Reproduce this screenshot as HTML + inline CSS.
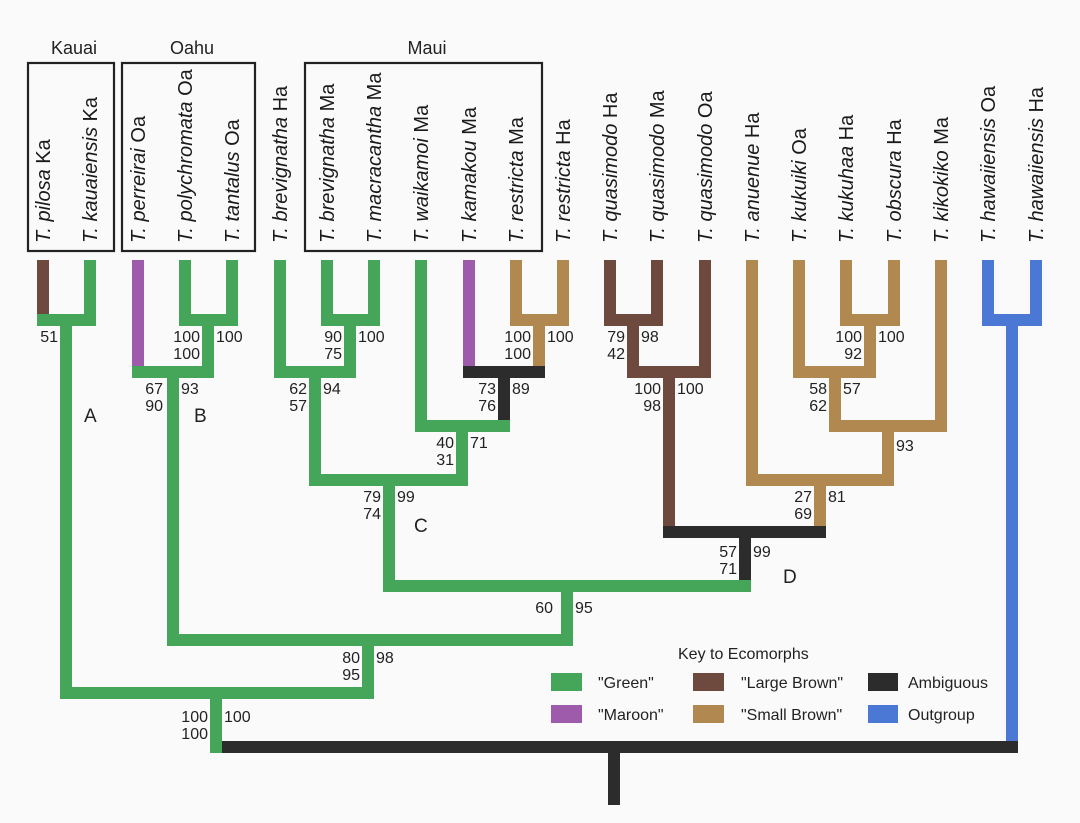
<!DOCTYPE html>
<html><head><meta charset="utf-8"><style>
html,body{margin:0;padding:0;background:#fafafa;}
svg{display:block;font-family:"Liberation Sans",sans-serif;}
</style></head><body>
<svg width="1080" height="823" viewBox="0 0 1080 823" xmlns="http://www.w3.org/2000/svg">
<rect width="1080" height="823" fill="#fafafa"/>
<g fill="none" stroke="#222" stroke-width="2.2">
<rect x="28" y="63" width="86" height="188"/>
<rect x="122" y="63" width="133" height="188"/>
<rect x="305" y="63" width="237" height="188"/>
</g>
<g font-size="18" fill="#222" text-anchor="middle">
<text x="74" y="54">Kauai</text><text x="192" y="54">Oahu</text><text x="427" y="54">Maui</text>
</g>
<g font-size="20" fill="#1a1a1a">
<text transform="translate(50,243) rotate(-90)"><tspan font-style="italic">T. pilosa</tspan> Ka</text>
<text transform="translate(97,243) rotate(-90)"><tspan font-style="italic">T. kauaiensis</tspan> Ka</text>
<text transform="translate(145,243) rotate(-90)"><tspan font-style="italic">T. perreirai</tspan> Oa</text>
<text transform="translate(192,243) rotate(-90)"><tspan font-style="italic">T. polychromata</tspan> Oa</text>
<text transform="translate(239,243) rotate(-90)"><tspan font-style="italic">T. tantalus</tspan> Oa</text>
<text transform="translate(287,243) rotate(-90)"><tspan font-style="italic">T. brevignatha</tspan> Ha</text>
<text transform="translate(334,243) rotate(-90)"><tspan font-style="italic">T. brevignatha</tspan> Ma</text>
<text transform="translate(381,243) rotate(-90)"><tspan font-style="italic">T. macracantha</tspan> Ma</text>
<text transform="translate(428,243) rotate(-90)"><tspan font-style="italic">T. waikamoi</tspan> Ma</text>
<text transform="translate(476,243) rotate(-90)"><tspan font-style="italic">T. kamakou</tspan> Ma</text>
<text transform="translate(523,243) rotate(-90)"><tspan font-style="italic">T. restricta</tspan> Ma</text>
<text transform="translate(570,243) rotate(-90)"><tspan font-style="italic">T. restricta</tspan> Ha</text>
<text transform="translate(617,243) rotate(-90)"><tspan font-style="italic">T. quasimodo</tspan> Ha</text>
<text transform="translate(664,243) rotate(-90)"><tspan font-style="italic">T. quasimodo</tspan> Ma</text>
<text transform="translate(712,243) rotate(-90)"><tspan font-style="italic">T. quasimodo</tspan> Oa</text>
<text transform="translate(759,243) rotate(-90)"><tspan font-style="italic">T. anuenue</tspan> Ha</text>
<text transform="translate(806,243) rotate(-90)"><tspan font-style="italic">T. kukuiki</tspan> Oa</text>
<text transform="translate(853,243) rotate(-90)"><tspan font-style="italic">T. kukuhaa</tspan> Ha</text>
<text transform="translate(901,243) rotate(-90)"><tspan font-style="italic">T. obscura</tspan> Ha</text>
<text transform="translate(948,243) rotate(-90)"><tspan font-style="italic">T. kikokiko</tspan> Ma</text>
<text transform="translate(995,243) rotate(-90)"><tspan font-style="italic">T. hawaiiensis</tspan> Oa</text>
<text transform="translate(1043,243) rotate(-90)"><tspan font-style="italic">T. hawaiiensis</tspan> Ha</text>
</g>
<g>
<rect x="37" y="260" width="12" height="54" fill="#6e4a3e"/>
<rect x="84" y="260" width="12" height="60" fill="#45a65a"/>
<rect x="37" y="314" width="59" height="12" fill="#45a65a"/>
<rect x="60" y="320" width="12" height="373" fill="#45a65a"/>
<rect x="179" y="260" width="12" height="60" fill="#45a65a"/>
<rect x="226" y="260" width="12" height="60" fill="#45a65a"/>
<rect x="179" y="314" width="59" height="12" fill="#45a65a"/>
<rect x="202" y="320" width="12" height="52" fill="#45a65a"/>
<rect x="132" y="260" width="12" height="106" fill="#9e5aab"/>
<rect x="132" y="366" width="82" height="12" fill="#45a65a"/>
<rect x="167" y="372" width="12" height="268" fill="#45a65a"/>
<rect x="321" y="260" width="12" height="60" fill="#45a65a"/>
<rect x="368" y="260" width="12" height="60" fill="#45a65a"/>
<rect x="321" y="314" width="59" height="12" fill="#45a65a"/>
<rect x="344" y="320" width="12" height="52" fill="#45a65a"/>
<rect x="274" y="260" width="12" height="112" fill="#45a65a"/>
<rect x="274" y="366" width="82" height="12" fill="#45a65a"/>
<rect x="309" y="372" width="12" height="108" fill="#45a65a"/>
<rect x="415" y="260" width="12" height="166" fill="#45a65a"/>
<rect x="463" y="260" width="12" height="106" fill="#9e5aab"/>
<rect x="510" y="260" width="12" height="60" fill="#b08850"/>
<rect x="557" y="260" width="12" height="60" fill="#b08850"/>
<rect x="510" y="314" width="59" height="12" fill="#b08850"/>
<rect x="533" y="320" width="12" height="46" fill="#b08850"/>
<rect x="463" y="366" width="82" height="12" fill="#2c2c2c"/>
<rect x="498" y="372" width="12" height="54" fill="#2c2c2c"/>
<rect x="415" y="420" width="95" height="12" fill="#45a65a"/>
<rect x="456" y="426" width="12" height="54" fill="#45a65a"/>
<rect x="309" y="474" width="159" height="12" fill="#45a65a"/>
<rect x="383" y="480" width="12" height="106" fill="#45a65a"/>
<rect x="604" y="260" width="12" height="60" fill="#6e4a3e"/>
<rect x="651" y="260" width="12" height="60" fill="#6e4a3e"/>
<rect x="604" y="314" width="59" height="12" fill="#6e4a3e"/>
<rect x="627" y="320" width="12" height="52" fill="#6e4a3e"/>
<rect x="699" y="260" width="12" height="112" fill="#6e4a3e"/>
<rect x="627" y="366" width="84" height="12" fill="#6e4a3e"/>
<rect x="663" y="372" width="12" height="160" fill="#6e4a3e"/>
<rect x="840" y="260" width="12" height="60" fill="#b08850"/>
<rect x="888" y="260" width="12" height="60" fill="#b08850"/>
<rect x="840" y="314" width="60" height="12" fill="#b08850"/>
<rect x="864" y="320" width="12" height="52" fill="#b08850"/>
<rect x="793" y="260" width="12" height="112" fill="#b08850"/>
<rect x="793" y="366" width="83" height="12" fill="#b08850"/>
<rect x="829" y="372" width="12" height="54" fill="#b08850"/>
<rect x="935" y="260" width="12" height="166" fill="#b08850"/>
<rect x="829" y="420" width="118" height="12" fill="#b08850"/>
<rect x="882" y="426" width="12" height="54" fill="#b08850"/>
<rect x="746" y="260" width="12" height="220" fill="#b08850"/>
<rect x="746" y="474" width="148" height="12" fill="#b08850"/>
<rect x="814" y="480" width="12" height="46" fill="#b08850"/>
<rect x="663" y="526" width="163" height="12" fill="#2c2c2c"/>
<rect x="739" y="532" width="12" height="54" fill="#2c2c2c"/>
<rect x="383" y="580" width="368" height="12" fill="#45a65a"/>
<rect x="561" y="586" width="12" height="54" fill="#45a65a"/>
<rect x="167" y="634" width="406" height="12" fill="#45a65a"/>
<rect x="362" y="640" width="12" height="53" fill="#45a65a"/>
<rect x="60" y="687" width="314" height="12" fill="#45a65a"/>
<rect x="210" y="693" width="12" height="60" fill="#45a65a"/>
<rect x="982" y="260" width="12" height="60" fill="#4a78d4"/>
<rect x="1030" y="260" width="12" height="60" fill="#4a78d4"/>
<rect x="982" y="314" width="60" height="12" fill="#4a78d4"/>
<rect x="1006" y="320" width="12" height="421" fill="#4a78d4"/>
<rect x="222" y="741" width="796" height="12" fill="#2c2c2c"/>
<rect x="608" y="753" width="12" height="52" fill="#2c2c2c"/>
</g>
<g font-size="16" fill="#222">
<g text-anchor="end">
<text x="58" y="342">51</text>
<text x="200" y="342">100</text><text x="200" y="359">100</text>
<text x="163" y="394">67</text><text x="163" y="411">90</text>
<text x="342" y="342">90</text><text x="342" y="359">75</text>
<text x="307" y="394">62</text><text x="307" y="411">57</text>
<text x="531" y="342">100</text><text x="531" y="359">100</text>
<text x="496" y="394">73</text><text x="496" y="411">76</text>
<text x="454" y="448">40</text><text x="454" y="465">31</text>
<text x="381" y="502">79</text><text x="381" y="519">74</text>
<text x="553" y="613">60</text>
<text x="360" y="663">80</text><text x="360" y="680">95</text>
<text x="208" y="722">100</text><text x="208" y="739">100</text>
<text x="625" y="342">79</text><text x="625" y="359">42</text>
<text x="661" y="394">100</text><text x="661" y="411">98</text>
<text x="862" y="342">100</text><text x="862" y="359">92</text>
<text x="827" y="394">58</text><text x="827" y="411">62</text>
<text x="812" y="502">27</text><text x="812" y="519">69</text>
<text x="737" y="557">57</text><text x="737" y="574">71</text>
</g>
<text x="216" y="342">100</text>
<text x="181" y="394">93</text>
<text x="358" y="342">100</text>
<text x="323" y="394">94</text>
<text x="547" y="342">100</text>
<text x="512" y="394">89</text>
<text x="470" y="448">71</text>
<text x="397" y="502">99</text>
<text x="575" y="613">95</text>
<text x="376" y="663">98</text>
<text x="224" y="722">100</text>
<text x="641" y="342">98</text>
<text x="677" y="394">100</text>
<text x="878" y="342">100</text>
<text x="843" y="394">57</text>
<text x="896" y="451">93</text>
<text x="828" y="502">81</text>
<text x="753" y="557">99</text>
</g>
<g font-size="19" fill="#222">
<text x="84" y="422">A</text><text x="194" y="422">B</text>
<text x="414" y="532">C</text><text x="783" y="583">D</text>
</g>
<g font-size="16" fill="#222">
<text x="678" y="659">Key to Ecomorphs</text>
<rect x="551" y="673" width="31" height="18" fill="#45a65a"/>
<text x="598" y="688">"Green"</text>
<rect x="693" y="673" width="31" height="18" fill="#6e4a3e"/>
<text x="741" y="688">"Large Brown"</text>
<rect x="868" y="673" width="30" height="18" fill="#2c2c2c"/>
<text x="908" y="688">Ambiguous</text>
<rect x="551" y="705" width="31" height="18" fill="#9e5aab"/>
<text x="598" y="720">"Maroon"</text>
<rect x="693" y="705" width="31" height="18" fill="#b08850"/>
<text x="741" y="720">"Small Brown"</text>
<rect x="868" y="705" width="30" height="18" fill="#4a78d4"/>
<text x="908" y="720">Outgroup</text>
</g>
</svg>
</body></html>
